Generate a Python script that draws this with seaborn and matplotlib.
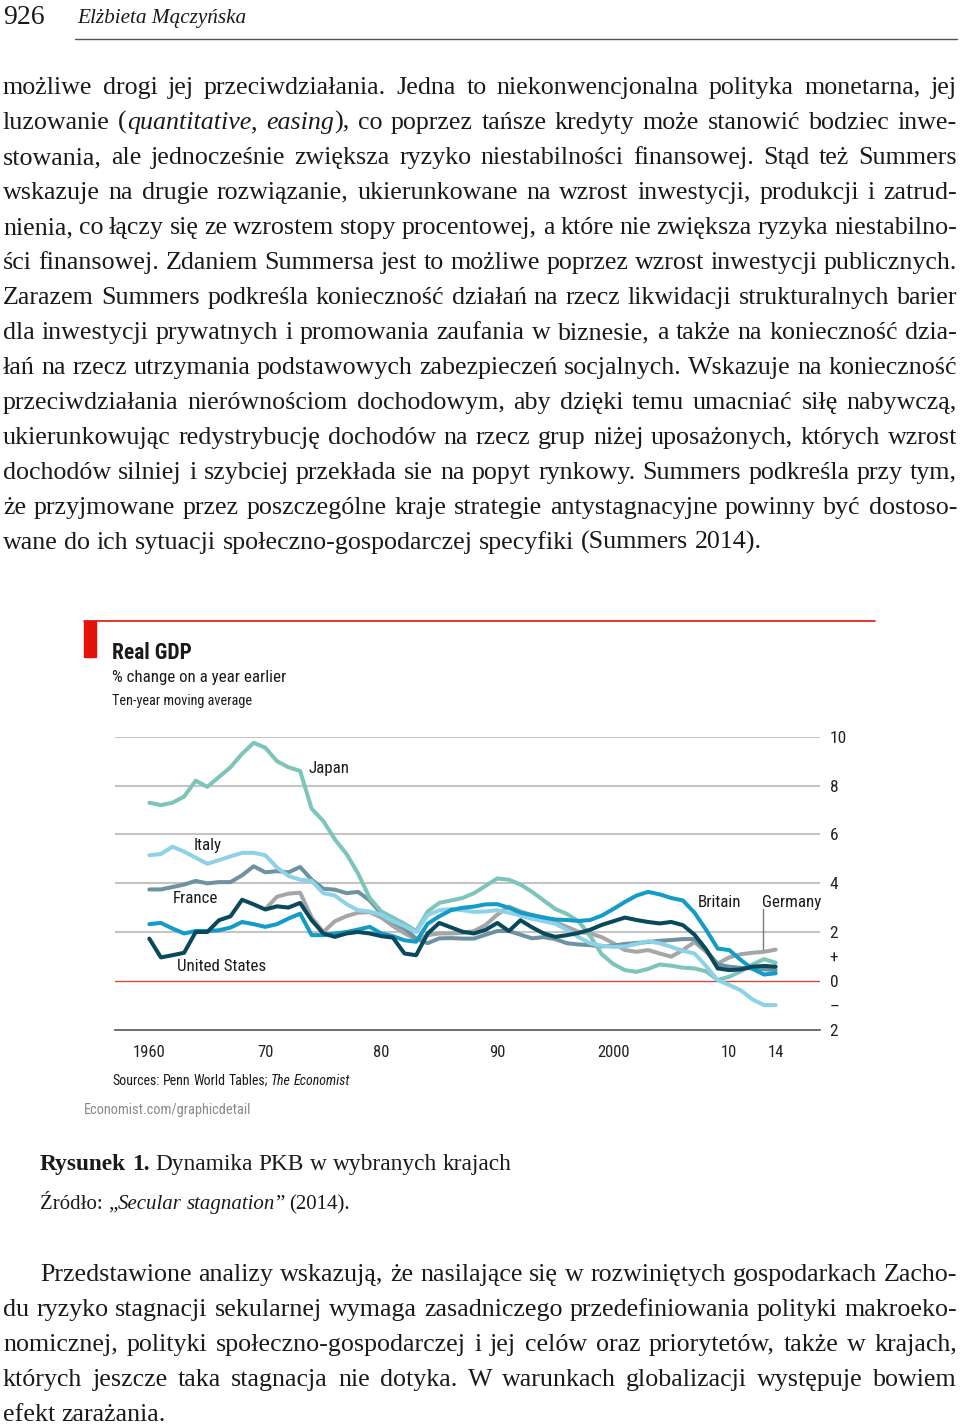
import matplotlib
matplotlib.use("Agg")
import matplotlib.pyplot as plt
import seaborn as sns
import pandas as pd
from matplotlib import font_manager
from matplotlib.lines import Line2D
from matplotlib.patches import Rectangle

# ---------------- data ----------------
years = list(range(1960, 2015))
germany_years = list(range(1970, 2015))

japan = [7.30, 7.20, 7.30, 7.55, 8.20, 7.95, 8.35, 8.75, 9.30, 9.75,
         9.55, 9.00, 8.75, 8.60, 7.05, 6.55, 5.80, 5.20, 4.40, 3.40,
         2.85, 2.60, 2.35, 2.05, 2.85, 3.20, 3.30, 3.40, 3.60, 3.90,
         4.20, 4.15, 3.95, 3.65, 3.30, 2.95, 2.75, 2.45, 1.85, 1.10,
         0.70, 0.45, 0.38, 0.50, 0.68, 0.63, 0.55, 0.52, 0.40, 0.05,
         0.18, 0.40, 0.68, 0.90, 0.75]
italy = [5.15, 5.20, 5.50, 5.30, 5.05, 4.80, 4.95, 5.10, 5.25, 5.25,
         5.15, 4.65, 4.30, 4.15, 4.10, 3.60, 3.50, 3.15, 2.90, 2.85,
         2.72, 2.45, 2.25, 2.00, 2.70, 2.90, 2.95, 2.90, 2.83, 2.85,
         2.90, 2.80, 2.68, 2.55, 2.45, 2.35, 2.10, 1.80, 1.55, 1.45,
         1.40, 1.42, 1.52, 1.63, 1.55, 1.40, 1.24, 1.13, 0.62, 0.04,
         -0.16, -0.38, -0.75, -0.98, -0.98]
france = [3.75, 3.75, 3.85, 3.95, 4.10, 4.00, 4.05, 4.05, 4.33, 4.70,
          4.45, 4.50, 4.45, 4.67, 4.15, 3.78, 3.74, 3.60, 3.65, 3.30,
          2.76, 2.42, 2.15, 1.74, 1.55, 1.75, 1.76, 1.74, 1.74, 1.90,
          2.05, 2.05, 1.90, 1.75, 1.80, 1.72, 1.55, 1.50, 1.47, 1.42,
          1.45, 1.52, 1.56, 1.60, 1.65, 1.68, 1.72, 1.72, 1.27, 0.68,
          0.59, 0.54, 0.52, 0.48, 0.45]
united_states = [1.74, 0.97, 1.06, 1.16, 2.01, 2.01, 2.49, 2.65, 3.33, 3.14,
                 2.93, 3.06, 3.01, 3.20, 2.49, 1.95, 1.81, 1.95, 2.01, 1.95,
                 1.84, 1.78, 1.13, 1.06, 1.95, 2.38, 2.20, 2.02, 1.95, 2.10,
                 2.38, 2.05, 2.49, 2.20, 1.95, 1.81, 1.88, 1.97, 2.10, 2.30,
                 2.45, 2.60, 2.50, 2.42, 2.36, 2.42, 2.29, 1.90, 1.30, 0.52,
                 0.45, 0.48, 0.59, 0.62, 0.59]
britain = [2.33, 2.38, 2.15, 1.95, 2.05, 2.05, 2.08, 2.19, 2.42, 2.33,
           2.22, 2.33, 2.56, 2.76, 1.88, 1.88, 1.95, 2.01, 2.11, 2.22,
           1.95, 1.84, 1.67, 1.61, 2.35, 2.65, 2.90, 3.00, 3.05, 3.14,
           3.15, 3.00, 2.80, 2.70, 2.60, 2.52, 2.50, 2.46, 2.50, 2.68,
           2.95, 3.24, 3.50, 3.65, 3.55, 3.40, 3.30, 2.80, 2.10, 1.33,
           1.27, 0.86, 0.50, 0.27, 0.32]
germany = [2.95, 3.45, 3.58, 3.62, 2.60, 2.01, 2.45, 2.66, 2.80, 2.82,
           2.60, 2.25, 1.96, 1.70, 1.88, 1.95, 1.95, 1.97, 2.05, 2.30,
           2.72, 3.05, 2.85, 2.70, 2.60, 2.42, 2.22, 2.02, 1.95, 1.80,
           1.55, 1.27, 1.20, 1.27, 1.13, 1.00, 1.27, 1.60, 1.20, 0.72,
           0.97, 1.10, 1.16, 1.20, 1.29]

countries = ["Germany", "France", "Japan", "Italy", "Britain", "United States"]
palette = {"Japan": "#7dc4ba", "Italy": "#8ed2e8", "France": "#6e92a0",
           "United States": "#0a485c", "Britain": "#149cc8", "Germany": "#a6a6a8"}

y_ticks = [-2, -1, 0, 1, 2, 4, 6, 8, 10]
y_tick_labels = ["2", "–", "0", "+", "2", "4", "6", "8", "10"]
grid_values = [2, 4, 6, 8, 10]
x_ticks = [1960, 1970, 1980, 1990, 2000, 2010]
x_tick_labels = ["1960", "70", "80", "90", "2000", "10"]
x_extra_tick, x_extra_label = 2014, "14"

# label anchors (year, value)
labels = {"Japan": (1973.7, 8.69), "Italy": (1963.8, 5.55), "France": (1962.0, 3.39),
          "United States": (1962.4, 0.61), "Britain": (2007.3, 3.22), "Germany": (2012.8, 3.22)}

header_page = "926"
header_author = "Elżbieta Mączyńska"

para1 = [
    "możliwe drogi jej przeciwdziałania. Jedna to niekonwencjonalna polityka monetarna, jej",
    "luzowanie (*quantitative*, *easing*), co poprzez tańsze kredyty może stanowić bodziec inwe-",
    "stowania, ale jednocześnie zwiększa ryzyko niestabilności finansowej. Stąd też Summers",
    "wskazuje na drugie rozwiązanie, ukierunkowane na wzrost inwestycji, produkcji i zatrud-",
    "nienia, co łączy się ze wzrostem stopy procentowej, a które nie zwiększa ryzyka niestabilno-",
    "ści finansowej. Zdaniem Summersa jest to możliwe poprzez wzrost inwestycji publicznych.",
    "Zarazem Summers podkreśla konieczność działań na rzecz likwidacji strukturalnych barier",
    "dla inwestycji prywatnych i promowania zaufania w biznesie, a także na konieczność dzia-",
    "łań na rzecz utrzymania podstawowych zabezpieczeń socjalnych. Wskazuje na konieczność",
    "przeciwdziałania nierównościom dochodowym, aby dzięki temu umacniać siłę nabywczą,",
    "ukierunkowując redystrybucję dochodów na rzecz grup niżej uposażonych, których wzrost",
    "dochodów silniej i szybciej przekłada sie na popyt rynkowy. Summers podkreśla przy tym,",
    "że przyjmowane przez poszczególne kraje strategie antystagnacyjne powinny być dostoso-",
    "wane do ich sytuacji społeczno-gospodarczej specyfiki (Summers 2014).",
]
para2 = [
    "Przedstawione analizy wskazują, że nasilające się w rozwiniętych gospodarkach Zacho-",
    "du ryzyko stagnacji sekularnej wymaga zasadniczego przedefiniowania polityki makroeko-",
    "nomicznej, polityki społeczno-gospodarczej i jej celów oraz priorytetów, także w krajach,",
    "których jeszcze taka stagnacja nie dotyka. W warunkach globalizacji występuje bowiem",
    "efekt zarażania.",
]
caption1 = "**Rysunek 1.** Dynamika PKB w wybranych krajach"
caption2 = "Źródło: „*Secular stagnation*” (2014)."
chart_title = "Real GDP"
chart_sub1 = "% change on a year earlier"
chart_sub2 = "Ten-year moving average"
chart_source = "Sources: Penn World Tables; *The Economist*"
chart_url = "Economist.com/graphicdetail"

# ---------------- style ----------------
sns.set_style("white")
available = {f.name for f in font_manager.fontManager.ttflist}
chart_font = next((f for f in ["Liberation Sans Narrow", "Roboto Condensed",
                               "Open Sans Condensed", "DejaVu Sans"] if f in available), "DejaVu Sans")
SERIF = ["Liberation Serif", "DejaVu Serif"]
CHART = [chart_font, "DejaVu Sans"]
plt.rcParams['font.family'] = CHART

W, H = 960, 1428
fig = plt.figure(figsize=(W / 100, H / 100), dpi=100)
fig.patch.set_facecolor("white")
fig.canvas.draw()
renderer = fig.canvas.get_renderer()


def fx(x):
    return x / W


def fy(y):
    return 1 - y / H


def measure(s, size, italic=False, bold=False, family=SERIF):
    t = fig.text(0, 0, s, fontsize=size, style='italic' if italic else 'normal',
                 weight='bold' if bold else 'normal', family=family)
    w = t.get_window_extent(renderer).width
    t.remove()
    return w


def parse(line):
    """split into words; each word is a list of (text, italic, bold) segments.
    *..* toggles italic, **..** toggles bold"""
    words = []
    it, bd = False, False
    for w in line.split(' '):
        segs = []
        buf = ""
        i = 0
        while i < len(w):
            if w.startswith("**", i):
                if buf:
                    segs.append((buf, it, bd))
                buf = ""
                bd = not bd
                i += 2
            elif w[i] == "*":
                if buf:
                    segs.append((buf, it, bd))
                buf = ""
                it = not it
                i += 1
            else:
                buf += w[i]
                i += 1
        if buf:
            segs.append((buf, it, bd))
        words.append(segs)
    return words


def draw_line(line, x_left, baseline, size, x_right=None, family=SERIF, color="#1a1a1a"):
    words = parse(line)

    def layout(sz):
        widths = [[measure(s, sz, it, bd, family) for s, it, bd in w] for w in words]
        space = measure("a a", sz, family=family) - measure("aa", sz, family=family)
        return widths, space

    widths, space = layout(size)
    totals = [sum(ws) for ws in widths]
    if x_right is not None and len(words) > 1:
        natural = sum(totals) + 0.8 * space * (len(words) - 1)
        avail = x_right - x_left
        if natural > avail:
            size = size * avail / natural
            widths, space = layout(size)
            totals = [sum(ws) for ws in widths]
        gap = (x_right - x_left - sum(totals)) / (len(words) - 1)
    else:
        gap = space
    x = x_left
    for w, ws in zip(words, widths):
        for (s, it, bd), sw in zip(w, ws):
            fig.text(fx(x), fy(baseline), s, fontsize=size, family=family,
                     style='italic' if it else 'normal', weight='bold' if bd else 'normal',
                     va='baseline', ha='left', color=color)
            x += sw
        x += gap


BODY = 18.7
LEFT, RIGHT = 3, 957

# header
fig.text(fx(3), fy(24), header_page, fontsize=20, family=SERIF, va='baseline', color="#1a1a1a")
fig.text(fx(77), fy(23), header_author, fontsize=15.3, family=SERIF, style='italic',
         va='baseline', color="#1a1a1a")
fig.add_artist(Line2D([fx(75), fx(957)], [fy(39), fy(39)], color="#555555", lw=1.0,
                      transform=fig.transFigure))

# paragraph 1
for i, line in enumerate(para1):
    base = 87 + 35 * i + 7
    last = i == len(para1) - 1
    draw_line(line, LEFT, base, BODY, None if last else RIGHT)

# caption
draw_line(caption1, 40, 1170, 16.8)
draw_line(caption2, 40, 1209, 15.0)

# paragraph 2
for i, line in enumerate(para2):
    base = 1274 + 35 * i + 7
    last = i == len(para2) - 1
    draw_line(line, 40 if i == 0 else LEFT, base, BODY, None if last else RIGHT)

# ---------------- chart ----------------
RED = "#e3120b"
fig.add_artist(Line2D([fx(84), fx(875)], [fy(621), fy(621)], color=RED, lw=1.2,
                      transform=fig.transFigure))
fig.add_artist(Rectangle((fx(84), fy(657)), 12 / W, 36 / H, color=RED,
                         transform=fig.transFigure))
fig.text(fx(112), fy(659), chart_title, fontsize=15.5, weight='bold', va='baseline', color="#1a1a1a")
fig.text(fx(112), fy(682), chart_sub1, fontsize=12.2, va='baseline', color="#1a1a1a")
fig.text(fx(112), fy(705), chart_sub2, fontsize=10.3, va='baseline', color="#1a1a1a")
draw_line(chart_source, 112, 1085, 10, family=CHART)
fig.text(fx(84), fy(1114), chart_url, fontsize=10.4, va='baseline', color="#8a8a8a")

x0_year = 1960 + (115 - 149.3) / 11.6
x1_year = 1960 + (820 - 149.3) / 11.6
ax = fig.add_axes([fx(115), fy(1030), 705 / W, (1030 - 736.7) / H])
ax.set_facecolor("none")

rows = []
series = {"Japan": (years, japan), "Italy": (years, italy), "France": (years, france),
          "United States": (years, united_states), "Britain": (years, britain),
          "Germany": (germany_years, germany)}
for name, (yrs, vals) in series.items():
    for yr, v in zip(yrs, vals):
        rows.append({"year": yr, "value": v, "country": name})
df = pd.DataFrame(rows)

for v in grid_values:
    ax.axhline(v, color="#c4c4c4", lw=1.5, zorder=0)
ax.axhline(0, color="#d2473e", lw=1.0, zorder=0)

sns.lineplot(data=df, x="year", y="value", hue="country", hue_order=countries,
             palette=palette, linewidth=2.9, legend=False, ax=ax, zorder=3)
for ln in ax.get_lines():
    ln.set_solid_joinstyle("round")

ax.set_xlim(x0_year, x1_year)
ax.set_ylim(-2, 10)
for s in ["left", "top", "right"]:
    ax.spines[s].set_visible(False)
ax.spines["bottom"].set_color("#555555")
ax.spines["bottom"].set_linewidth(1.2)

ax.yaxis.set_ticks_position("right")
ax.set_yticks(y_ticks)
ax.set_yticklabels(y_tick_labels)
ax.tick_params(axis="y", length=0, pad=7, labelsize=12.5, labelcolor="#222222")

ax.set_xticks(x_ticks)
ax.set_xticklabels(x_tick_labels)
minor = list(range(1960, 2015))
ax.set_xticks(minor, labels=[x_extra_label if m == x_extra_tick else "" for m in minor], minor=True)
ax.tick_params(axis="x", which="major", direction="in", length=7.5, width=1.0,
               color="#555555", pad=11, labelsize=12, labelcolor="#222222")
ax.tick_params(axis="x", which="minor", direction="in", length=4, width=1.0,
               color="#555555", pad=11, labelsize=12, labelcolor="#222222")
ax.set_xlabel("")
ax.set_ylabel("")
ax.grid(False)

for name, (xx, yy) in labels.items():
    ax.text(xx, yy, name, fontsize=12.2, va="center", ha="left", color="#1a1a1a", zorder=5)
ax.plot([2012.9, 2012.9], [2.95, 1.25], color="#777777", lw=1.0, zorder=2)

fig.savefig("out.png", dpi=100, facecolor="white")
